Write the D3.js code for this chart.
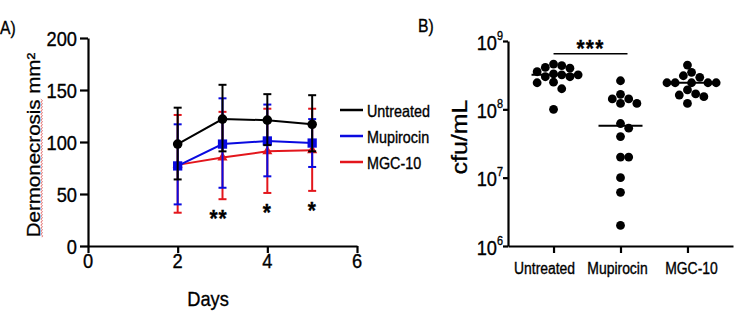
<!DOCTYPE html>
<html>
<head>
<meta charset="utf-8">
<script src="https://cdn.jsdelivr.net/npm/d3@7/dist/d3.min.js"></script>
<style>
  html, body { margin: 0; padding: 0; background: #fff; }
  svg { display: block; font-family: "Liberation Sans", Arial, sans-serif; }
  text { stroke: #000; stroke-width: 0.35px; }
</style>
</head>
<body>
<svg id="chart" width="735" height="312"></svg>
<script>
// ---------------- DATA ----------------
// Panel A: dermonecrosis (mean with error bar limits)
const days = [2, 3, 4, 5];
const seriesNames = ["Untreated", "Mupirocin", "MGC-10"];
const untreatedMean = [98, 122, 121, 117];
const untreatedHi   = [133, 155, 146, 145];
const untreatedLo   = [64, 91, 97, 91];
const mupirocinMean = [77, 98, 101, 99];
const mupirocinHi   = [117, 142, 136, 122];
const mupirocinLo   = [40, 56, 67, 76];
const mgcMean = [78, 85, 91, 92];
const mgcHi   = [126, 129, 132, 132];
const mgcLo   = [32, 45, 51, 53];
const sigDays   = [3, 4, 5];
const sigLabels = ["**", "*", "*"];
const xTicksA = [0, 2, 4, 6];
const yTicksA = [0, 50, 100, 150, 200];

// Panel B: cfu/mL per animal
const groupsB = ["Untreated", "Mupirocin", "MGC-10"];
const untreatedCfu = [4.6e8, 4.35e8, 4.1e8, 4.0e8, 3.55e8, 3.3e8, 3.2e8, 3.0e8, 3.2e8, 3.0e8, 2.45e8, 2.0e8, 2.5e8, 1.0e8];
const mupirocinCfu = [2.62e8, 1.66e8, 1.42e8, 1.42e8, 1.22e8, 1.22e8, 6.2e7, 5.3e7, 4.0e7, 2.0e7, 2.0e7, 1.0e7, 6.1e6, 2.0e6];
const mgcCfu = [4.45e8, 3.48e8, 3.1e8, 2.94e8, 2.45e8, 2.45e8, 2.45e8, 2.45e8, 2.45e8, 1.92e8, 1.68e8, 1.62e8, 1.53e8, 1.22e8];
const yTicksBExp = [6, 7, 8, 9];
const sigB = { from: "Untreated", to: "Mupirocin", label: "***", level: 6.5e8 };

// ---------------- STYLE ----------------
const colors = { "Untreated": "#000000", "Mupirocin": "#0a0ae0", "MGC-10": "#e3161c" };
const labelShiftB = { "Untreated": -9, "Mupirocin": -3, "MGC-10": 4 };
const SX = 0.87; // horizontal squeeze of the original picture's text
const svg = d3.select("#chart");
svg.append("rect").attr("width", 735).attr("height", 312).attr("fill", "#fff");

function txt(g, x, y, s, o = {}) {
  const t = g.append("text")
    .attr("transform", `translate(${x},${y}) scale(${SX},1)` + (o.rotate ? " rotate(-90)" : ""))
    .attr("text-anchor", o.anchor || "middle")
    .attr("font-size", o.size || 16)
    .attr("font-weight", o.weight || "normal")
    .attr("fill", o.fill || "#000");
  if (o.letterSpacing) t.attr("letter-spacing", o.letterSpacing);
  t.text(s);
  return t;
}

// ================= PANEL A =================
const xA = d3.scaleLinear().domain([0, 6]).range([88, 357]);
const yA = d3.scaleLinear().domain([0, 200]).range([246, 38]);
const gA = svg.append("g");

const axYA = gA.append("g").attr("transform", `translate(${xA(0)},0)`)
  .call(d3.axisLeft(yA).tickValues(yTicksA).tickSize(8).tickSizeOuter(0).tickFormat(""));
const axXA = gA.append("g").attr("transform", `translate(0,${yA(0)})`)
  .call(d3.axisBottom(xA).tickValues(xTicksA).tickSize(7).tickSizeOuter(0).tickFormat(""));
[axYA, axXA].forEach(a => {
  a.selectAll("path.domain").attr("stroke", "#000").attr("stroke-width", 2.2);
  a.selectAll(".tick line").attr("stroke", "#000").attr("stroke-width", 2.2);
});
yTicksA.forEach(v => txt(gA, 77, yA(v) + 7.5, String(v), { anchor: "end", size: 21 }));
xTicksA.forEach(v => txt(gA, xA(v), 267.5, String(v), { size: 21 }));
txt(gA, 208, 306, "Days", { size: 21 });

// Y label with spell-check underline
const yLab = gA.append("text")
  .attr("transform", `translate(40,145) scale(${SX},1) rotate(-90)`)
  .attr("text-anchor", "middle").attr("font-size", 20.5).attr("fill", "#000")
  .text("Dermonecrosis mm²");
const fullLen = yLab.node().getComputedTextLength();
const wordLen = yLab.node().getSubStringLength(0, 13);
const yStart = 145 + fullLen / 2, yEnd = yStart - wordLen;
let wave = `M42,${yStart}`;
for (let yy = yStart, k = 0; yy > yEnd; yy -= 1.5, k++) wave += `L${k % 2 ? 40.8 : 42.6},${yy - 1.5}`;
gA.append("path").attr("d", wave).attr("fill", "none").attr("stroke", "#e06b6b").attr("stroke-width", 0.9);

txt(gA, 0, 33.5, "A)", { anchor: "start", size: 18 });

const seriesA = [
  { name: "MGC-10", mean: mgcMean, hi: mgcHi, lo: mgcLo, shape: "triangle" },
  { name: "Mupirocin", mean: mupirocinMean, hi: mupirocinHi, lo: mupirocinLo, shape: "square" },
  { name: "Untreated", mean: untreatedMean, hi: untreatedHi, lo: untreatedLo, shape: "circle" }
];
const lineA = d3.line().x(d => xA(d.day)).y(d => yA(d.v));
seriesA.forEach(s => {
  const c = colors[s.name];
  const g = gA.append("g");
  const pts = days.map((d, i) => ({ day: d, v: s.mean[i], hi: s.hi[i], lo: s.lo[i] }));
  pts.forEach(p => {
    g.append("line").attr("x1", xA(p.day)).attr("x2", xA(p.day)).attr("y1", yA(p.lo)).attr("y2", yA(p.hi))
      .attr("stroke", c).attr("stroke-width", 2);
    [p.lo, p.hi].forEach(e => g.append("line")
      .attr("x1", xA(p.day) - 4).attr("x2", xA(p.day) + 4).attr("y1", yA(e)).attr("y2", yA(e))
      .attr("stroke", c).attr("stroke-width", 2));
  });
  g.append("path").datum(pts).attr("d", lineA).attr("fill", "none").attr("stroke", c).attr("stroke-width", 2);
  const sym = s.shape === "circle" ? d3.symbolCircle : s.shape === "square" ? d3.symbolSquare : d3.symbolTriangle;
  const size = s.shape === "circle" ? 72 : s.shape === "square" ? 86 : 44;
  pts.forEach(p => g.append("path").attr("d", d3.symbol(sym, size)())
    .attr("transform", `translate(${xA(p.day)},${yA(p.v)})`).attr("fill", c));
});

// significance stars under the lowest error bar
sigDays.forEach((d, i) => {
  const idx = days.indexOf(d);
  const lowest = Math.min(untreatedLo[idx], mupirocinLo[idx], mgcLo[idx]);
  const xOff = sigLabels[i].length > 1 ? -4 : 0;
  txt(gA, xA(d) + xOff, yA(lowest) + 28, sigLabels[i], { size: 24, weight: "bold", letterSpacing: 1 });
});

// Legend
seriesNames.forEach((n, i) => {
  const ly = 110 + i * 26;
  gA.append("line").attr("x1", 340).attr("x2", 363).attr("y1", ly).attr("y2", ly)
    .attr("stroke", colors[n]).attr("stroke-width", 2.5);
  txt(gA, 367, ly + 6.5, n, { anchor: "start", size: 16.5 });
});

// ================= PANEL B =================
const xB = d3.scalePoint().domain(groupsB).range([508, 733]).padding(0.68);
const yB = d3.scaleLog().domain([1e6, 1e9]).range([246, 41]);
const gB = svg.append("g");

const axYB = gB.append("g").attr("transform", `translate(508,0)`)
  .call(d3.axisLeft(yB).tickValues(yTicksBExp.map(e => Math.pow(10, e))).tickSize(5).tickSizeOuter(0).tickFormat(""));
const axXB = gB.append("g").attr("transform", `translate(0,${yB(1e6)})`)
  .call(d3.axisBottom(xB).tickSize(7).tickSizeOuter(0).tickFormat(""));
[axYB, axXB].forEach(a => {
  a.selectAll("path.domain").attr("stroke", "#000").attr("stroke-width", 2.2);
  a.selectAll(".tick line").attr("stroke", "#000").attr("stroke-width", 2.2);
});
yTicksBExp.forEach(e => {
  const t = gB.append("text")
    .attr("transform", `translate(503,${yB(Math.pow(10, e)) + 8.5}) scale(${SX},1)`)
    .attr("text-anchor", "end").attr("font-size", 21).attr("fill", "#000");
  t.append("tspan").text("10");
  t.append("tspan").attr("font-size", 12.5).attr("dy", -10).text(String(e));
});
groupsB.forEach(gname => txt(gB, xB(gname) + labelShiftB[gname], 274, gname, { size: 16 }));
gB.append("text").attr("transform", `translate(467,137) scale(${SX},1) rotate(-90)`)
  .attr("text-anchor", "middle").attr("font-size", 25).attr("fill", "#000").text("cfu/mL");
txt(gB, 418, 32, "B)", { anchor: "start", size: 18 });

// significance bracket
const yS = yB(sigB.level);
gB.append("line").attr("x1", xB(sigB.from)).attr("x2", xB(sigB.to) + 7).attr("y1", yS).attr("y2", yS)
  .attr("stroke", "#000").attr("stroke-width", 1.6);
txt(gB, (xB(sigB.from) + xB(sigB.to) + 7) / 2, yS + 3, sigB.label, { size: 24, weight: "bold", letterSpacing: 1.5 });

// beeswarm dots
const R = 4.4, MIN = 8.2;
const dataB = { "Untreated": untreatedCfu, "Mupirocin": mupirocinCfu, "MGC-10": mgcCfu };
groupsB.forEach(gname => {
  const vals = dataB[gname];
  const cx = xB(gname);
  const placed = [];
  vals.map(v => ({ v, y: yB(v) })).sort((a, b) => a.y - b.y).forEach(p => {
    for (let k = 0; k < 40; k++) {
      const off = (k % 2 ? 1 : -1) * Math.ceil(k / 2) * 4.1;
      const x = cx + off;
      if (placed.every(q => Math.hypot(q.x - x, q.y - p.y) >= MIN)) { placed.push({ x, y: p.y }); break; }
    }
  });
  const med = d3.median(vals);
  gB.append("line").attr("x1", cx - 22).attr("x2", cx + 22).attr("y1", yB(med)).attr("y2", yB(med))
    .attr("stroke", "#000").attr("stroke-width", 2);
  gB.selectAll(null).data(placed).enter().append("circle")
    .attr("cx", d => d.x).attr("cy", d => d.y).attr("r", R).attr("fill", "#000");
});
</script>
</body>
</html>
